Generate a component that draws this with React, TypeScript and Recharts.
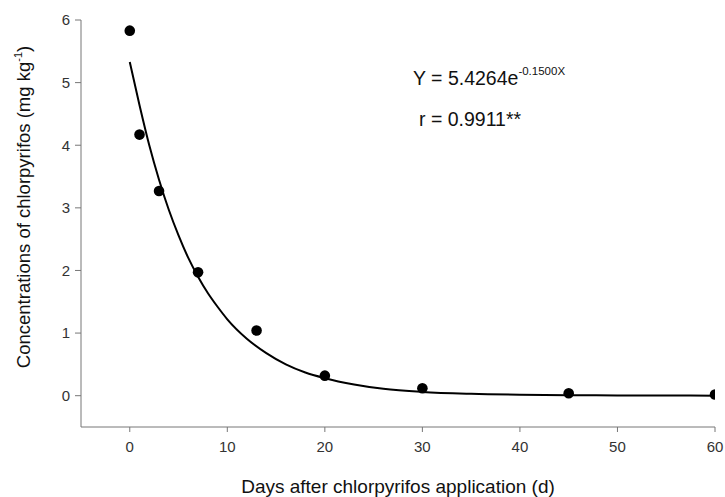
import React from "react";
import {
  ComposedChart,
  Scatter,
  Line,
  XAxis,
  YAxis,
  Customized
} from "recharts";

// measured residues
const sampleDays = [0, 1, 3, 7, 13, 20, 30, 45, 60];
const residues = [5.83, 4.17, 3.27, 1.97, 1.04, 0.32, 0.12, 0.04, 0.02];

// fitted curve
const curveDays = [0, 1, 2, 3, 4, 5, 6, 7, 8, 9, 10, 12, 14, 16, 18, 20, 23, 26, 30, 35, 40, 45, 50, 55, 60];
const curveValues = [5.33, 4.64, 4.0, 3.45, 2.97, 2.56, 2.2, 1.9, 1.64, 1.42, 1.22, 0.91, 0.68, 0.5, 0.37, 0.28, 0.18, 0.11, 0.06, 0.03, 0.015, 0.008, 0.004, 0.002, 0.001];

const xTicks = [0, 10, 20, 30, 40, 50, 60];
const yTicks = [0, 1, 2, 3, 4, 5, 6];

const points = sampleDays.map((d, i) => ({ x: d, y: residues[i] }));
const curve = curveDays.map((d, i) => ({ x: d, y: curveValues[i] }));

const font = "Arial, 'Liberation Sans', sans-serif";
const tickStyle = { fill: "#333", fontSize: 15, fontFamily: font };

function Annotations() {
  return (
    <g fontFamily={font} fill="#111">
      <text x={413} y={85} fontSize={19.5}>
        Y = 5.4264e
        <tspan fontSize={11.5} dy={-10}>-0.1500X</tspan>
      </text>
      <text x={419} y={126} fontSize={19.5}>
        r = 0.9911**
      </text>
      <text
        x={0}
        y={0}
        fontSize={18.5}
        textAnchor="middle"
        transform="translate(30,207) rotate(-90)"
      >
        Concentrations of chlorpyrifos (mg kg
        <tspan fontSize={11} dy={-8}>-1</tspan>
        <tspan dy={8}>)</tspan>
      </text>
      <text x={398} y={493} fontSize={19} textAnchor="middle">
        Days after chlorpyrifos application (d)
      </text>
    </g>
  );
}

export default function App() {
  return (
    <div style={{ position: "fixed", left: 0, top: 0, background: "#fff" }}>
      <ComposedChart
        width={725}
        height={497}
        margin={{ top: 20, right: 10, bottom: 0, left: 0 }}
        style={{ overflow: "visible" }}
      >
        <XAxis
          type="number"
          dataKey="x"
          domain={[-5, 60]}
          ticks={xTicks}
          allowDataOverflow
          height={70}
          stroke="#777"
          tickSize={5}
          tickMargin={9}
          tick={tickStyle}
        />
        <YAxis
          type="number"
          dataKey="y"
          domain={[-0.5, 6]}
          ticks={yTicks}
          allowDataOverflow
          width={81}
          stroke="#777"
          tickSize={6}
          tickMargin={5}
          tick={tickStyle}
        />
        <Line
          data={curve}
          dataKey="y"
          type="monotone"
          stroke="#000"
          strokeWidth={2}
          dot={false}
          activeDot={false}
          isAnimationActive={false}
        />
        <Scatter
          data={points}
          dataKey="y"
          fill="#000"
          shape={(p: any) => <circle cx={p.cx} cy={p.cy} r={5.3} fill="#000" />}
          isAnimationActive={false}
        />
        <Customized component={Annotations} />
      </ComposedChart>
    </div>
  );
}
